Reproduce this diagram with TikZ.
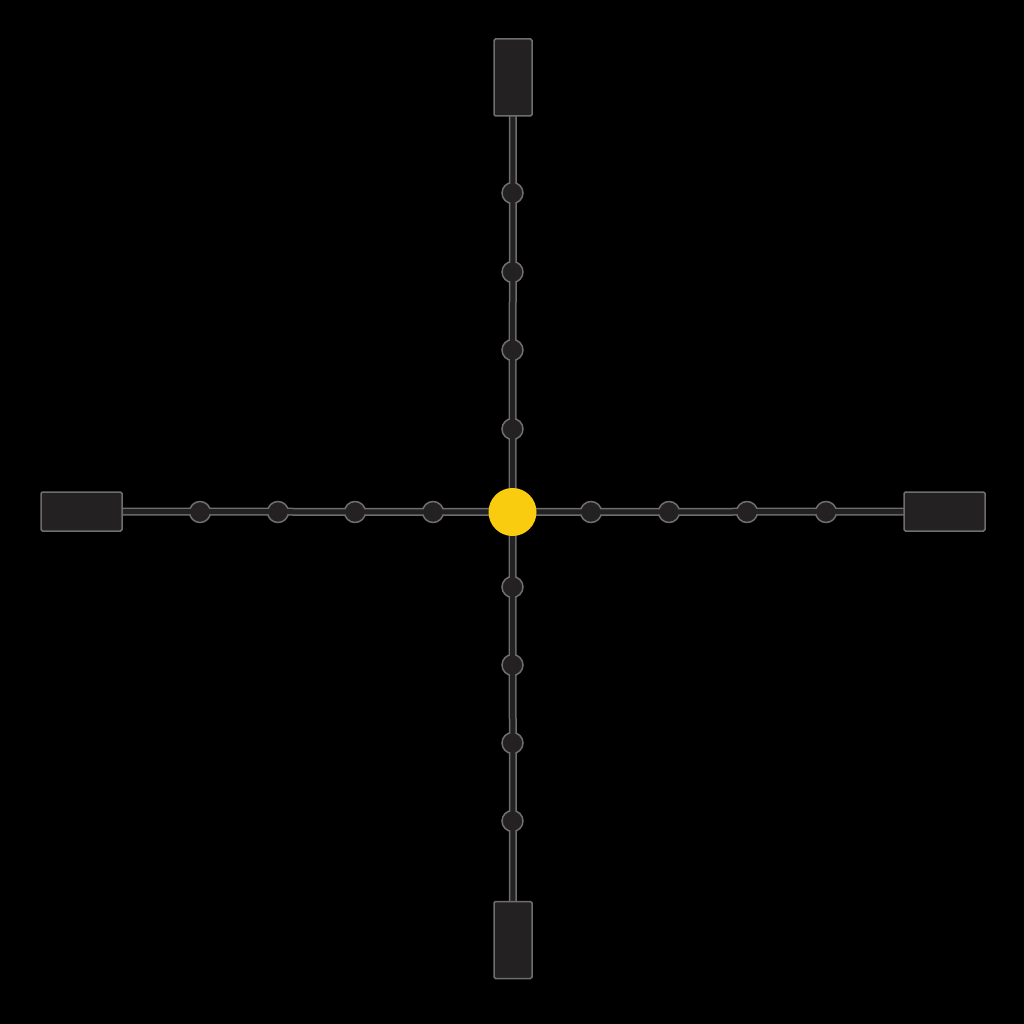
\documentclass[tikz,border=0pt]{standalone}
\definecolor{edgegray}{HTML}{6E6E6E}
\definecolor{darkfill}{HTML}{242122}
\definecolor{hub}{HTML}{FACC0F}
\pgfdeclarelayer{base}
\pgfdeclarelayer{bg}
\pgfdeclarelayer{mid}
\pgfdeclarelayer{fg}
\pgfsetlayers{base,bg,main,mid,fg}
\tikzset{
  endbox/.style={draw=edgegray, fill=darkfill, line width=1.5pt, rounded corners=1.5pt, inner sep=0pt},
  vbox/.style={endbox, minimum width=38pt, minimum height=77pt},
  hbox/.style={endbox, minimum width=81pt, minimum height=39pt},
  bead/.style={circle, draw=edgegray, fill=darkfill, line width=1.5pt, minimum size=21pt, inner sep=0pt},
  hubdot/.style={circle, fill=hub, minimum size=48pt, inner sep=0pt},
  railout/.style={draw=edgegray, line width=8pt},
  railin/.style={draw=darkfill, line width=5pt},
}
\begin{document}
\begin{tikzpicture}[x=1pt,y=-1pt]
\begin{pgfonlayer}{base}
\fill[black] (0,0) rectangle (1024,1024);
\end{pgfonlayer}
\useasboundingbox (0,0) rectangle (1024,1024);
\begin{pgfonlayer}{fg}
\node[hubdot] (c) at (512.5,512) {};
\node[vbox] (top) at (513,77.5) {};
\node[vbox] (bot) at (513,940) {};
\node[hbox] (left) at (81.5,511.5) {};
\node[hbox] (right) at (944.5,511.5) {};
\end{pgfonlayer}
% beads
\node[bead] (t1) at (512.5,193) {};
\node[bead] (t2) at (512.5,272) {};
\node[bead] (t3) at (512.5,350) {};
\node[bead] (t4) at (512.5,429) {};
\node[bead] (b1) at (512.5,587) {};
\node[bead] (b2) at (512.5,665) {};
\node[bead] (b3) at (512.5,743) {};
\node[bead] (b4) at (512.5,821) {};
\node[bead] (l1) at (200,512) {};
\node[bead] (l2) at (278,512) {};
\node[bead] (l3) at (355,512) {};
\node[bead] (l4) at (433,512) {};
\node[bead] (r1) at (591,512) {};
\node[bead] (r2) at (669,512) {};
\node[bead] (r3) at (747,512) {};
\node[bead] (r4) at (826,512) {};
\begin{pgfonlayer}{bg}
\draw[railout] (top.center) -- (c.center);
\draw[railout] (bot.center) -- (c.center);
\draw[railout] (left.center) -- (c.center);
\draw[railout] (right.center) -- (c.center);
\end{pgfonlayer}
\begin{pgfonlayer}{mid}
\draw[railin] (top.center) -- (c.center);
\draw[railin] (bot.center) -- (c.center);
\draw[railin] (left.center) -- (c.center);
\draw[railin] (right.center) -- (c.center);
\end{pgfonlayer}
\end{tikzpicture}
\end{document}
